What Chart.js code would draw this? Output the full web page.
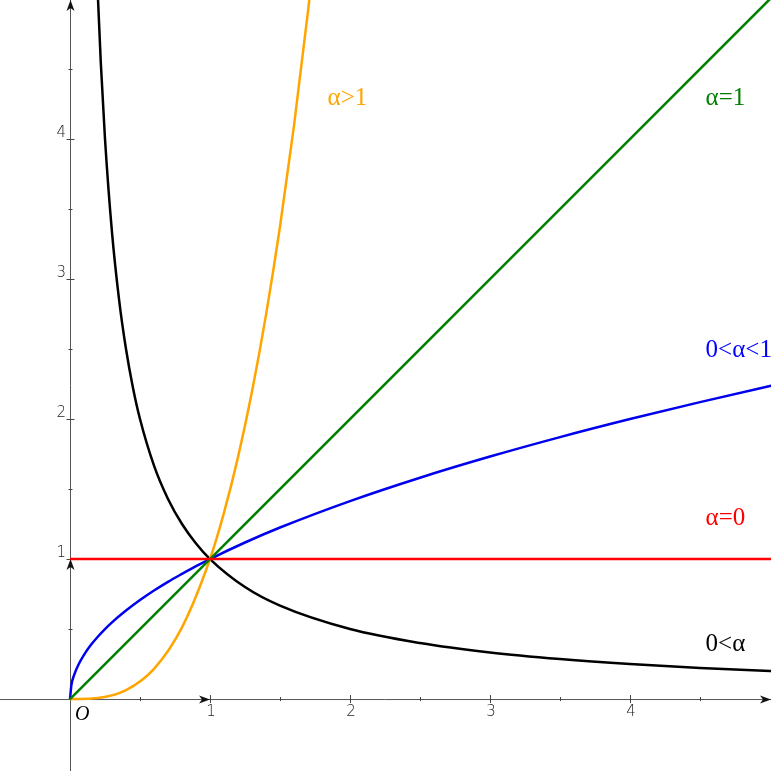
<!DOCTYPE html>
<html>
<head>
<meta charset="utf-8">
<script src="https://cdn.jsdelivr.net/npm/chart.js@4/dist/chart.umd.min.js"></script>
<style>
  html, body { margin: 0; padding: 0; background: #fff; }
  canvas { display: block; }
</style>
</head>
<body>
<canvas id="powerChart" width="771" height="771"></canvas>
<script>
// valores
const invX = [0.19, 0.2, 0.22, 0.25, 0.3, 0.35, 0.4, 0.45, 0.5, 0.6, 0.7, 0.8, 0.9, 1, 1.25, 1.5, 2, 2.5, 3, 3.5, 4, 4.5, 5, 5.1];
const invY = [5.263, 5, 4.545, 4, 3.333, 2.857, 2.5, 2.222, 2, 1.667, 1.429, 1.25, 1.111, 1, 0.8, 0.667, 0.5, 0.4, 0.333, 0.286, 0.25, 0.222, 0.2, 0.196];

const rootX = [0, 0.01, 0.03, 0.06, 0.1, 0.15, 0.2, 0.25, 0.3, 0.4, 0.5, 0.6, 0.7, 0.8, 0.9, 1, 1.25, 1.5, 2, 2.5, 3, 3.5, 4, 4.5, 5, 5.1];
const rootY = [0, 0.1, 0.173, 0.245, 0.316, 0.387, 0.447, 0.5, 0.548, 0.632, 0.707, 0.775, 0.837, 0.894, 0.949, 1, 1.118, 1.225, 1.414, 1.581, 1.732, 1.871, 2, 2.121, 2.236, 2.258];

const cubeX = [0, 0.2, 0.4, 0.6, 0.8, 1, 1.1, 1.2, 1.3, 1.4, 1.5, 1.6, 1.7, 1.75];
const cubeY = [0, 0.008, 0.064, 0.216, 0.512, 1, 1.331, 1.728, 2.197, 2.744, 3.375, 4.096, 4.913, 5.359];

const lineX = [0, 5.1];
const lineY = [0, 5.1];

const constX = [0, 5.1];
const constY = [1, 1];

const tickValues = [1, 2, 3, 4];
const tickLabels = ['1', '2', '3', '4'];
const curveLabels = ['α>1', 'α=1', '0<α<1', 'α=0', '0<α'];

function toPoints(xs, ys) {
    return xs.map((x, i) => ({ x: x, y: ys[i] }));
}

// rótulos das curvas (posição em coordenadas do gráfico)
const labelPlaces = [
    { x: 1.84, y: 4.29, color: '#ffa500' },
    { x: 4.54, y: 4.29, color: '#007f00' },
    { x: 4.54, y: 2.49, color: '#0000ff' },
    { x: 4.54, y: 1.29, color: '#ff0000' },
    { x: 4.54, y: 0.39, color: '#000000' }
];

function arrow(ctx, x, y, dir) {
    ctx.save();
    ctx.translate(x, y);
    ctx.rotate(dir);
    ctx.beginPath();
    ctx.moveTo(0, 0);
    ctx.lineTo(-11, -4);
    ctx.lineTo(-8, 0);
    ctx.lineTo(-11, 4);
    ctx.closePath();
    ctx.fill();
    ctx.restore();
}

// desenha os eixos por baixo das curvas
const axesPlugin = {
    id: 'axes',
    beforeDatasetsDraw(chart) {
        const ctx = chart.ctx;
        const sx = chart.scales.x, sy = chart.scales.y;
        const ox = sx.getPixelForValue(0), oy = sy.getPixelForValue(0);
        ctx.save();
        ctx.strokeStyle = '#555';
        ctx.fillStyle = '#111';
        ctx.lineWidth = 1;
        ctx.beginPath();
        ctx.moveTo(0, oy + 0.5); ctx.lineTo(chart.width, oy + 0.5);
        ctx.moveTo(ox + 0.5, 0); ctx.lineTo(ox + 0.5, chart.height);
        ctx.stroke();

        ctx.strokeStyle = '#444';
        for (let v = 0.5; v < 5; v += 0.5) {
            const big = Number.isInteger(v);
            const h = big ? 4 : 2;
            const px = Math.round(sx.getPixelForValue(v)) + 0.5;
            const py = Math.round(sy.getPixelForValue(v)) + 0.5;
            ctx.beginPath();
            ctx.moveTo(px, oy - h); ctx.lineTo(px, oy + h);
            ctx.moveTo(ox - h + 0.5, py); ctx.lineTo(ox + h + 0.5, py);
            ctx.stroke();
        }

        ctx.font = '300 15px "DejaVu Sans"';
        ctx.fillStyle = '#222';
        tickValues.forEach((v, i) => {
            ctx.textAlign = 'center';
            ctx.textBaseline = 'top';
            ctx.fillText(tickLabels[i], sx.getPixelForValue(v) + 1, oy + 6);
            ctx.textAlign = 'right';
            ctx.textBaseline = 'bottom';
            ctx.fillText(tickLabels[i], ox - 4, sy.getPixelForValue(v) + 2);
        });

        ctx.fillStyle = '#000';
        ctx.font = 'italic 20px "Liberation Serif"';
        ctx.textAlign = 'left';
        ctx.textBaseline = 'top';
        ctx.fillText('O', ox + 5, oy + 6);

        ctx.fillStyle = '#111';
        arrow(ctx, sx.getPixelForValue(1), oy + 0.5, 0);
        arrow(ctx, ox + 0.5, sy.getPixelForValue(1), -Math.PI / 2);
        arrow(ctx, chart.width, oy + 0.5, 0);
        arrow(ctx, ox + 0.5, 0, -Math.PI / 2);
        ctx.restore();
    },
    afterDatasetsDraw(chart) {
        const ctx = chart.ctx;
        const sx = chart.scales.x, sy = chart.scales.y;
        ctx.save();
        ctx.font = '25px "Liberation Serif"';
        ctx.textAlign = 'left';
        ctx.textBaseline = 'middle';
        curveLabels.forEach((t, i) => {
            const p = labelPlaces[i];
            ctx.fillStyle = p.color;
            ctx.fillText(t, sx.getPixelForValue(p.x), sy.getPixelForValue(p.y));
        });
        ctx.restore();
    }
};

function serie(xs, ys, color) {
    return {
        data: toPoints(xs, ys),
        borderColor: color,
        borderWidth: 2.5,
        pointRadius: 0,
        showLine: true,
        fill: false,
        cubicInterpolationMode: 'monotone'
    };
}

function initChart() {
    const ctx = document.getElementById('powerChart');
    new Chart(ctx, {
        type: 'scatter',
        data: {
            datasets: [
                serie(constX, constY, '#ff0000'),
                serie(lineX, lineY, '#007f00'),
                serie(cubeX, cubeY, '#ffa500'),
                serie(rootX, rootY, '#0000ee'),
                serie(invX, invY, '#000000')
            ]
        },
        options: {
            responsive: false,
            animation: false,
            layout: { padding: 0 },
            plugins: { legend: { display: false }, tooltip: { enabled: false } },
            scales: {
                x: { type: 'linear', min: -0.5, max: 5.007, display: false },
                y: { type: 'linear', min: -0.514, max: 4.993, display: false }
            }
        },
        plugins: [axesPlugin]
    });
}

document.addEventListener('DOMContentLoaded', initChart);
</script>
</body>
</html>
